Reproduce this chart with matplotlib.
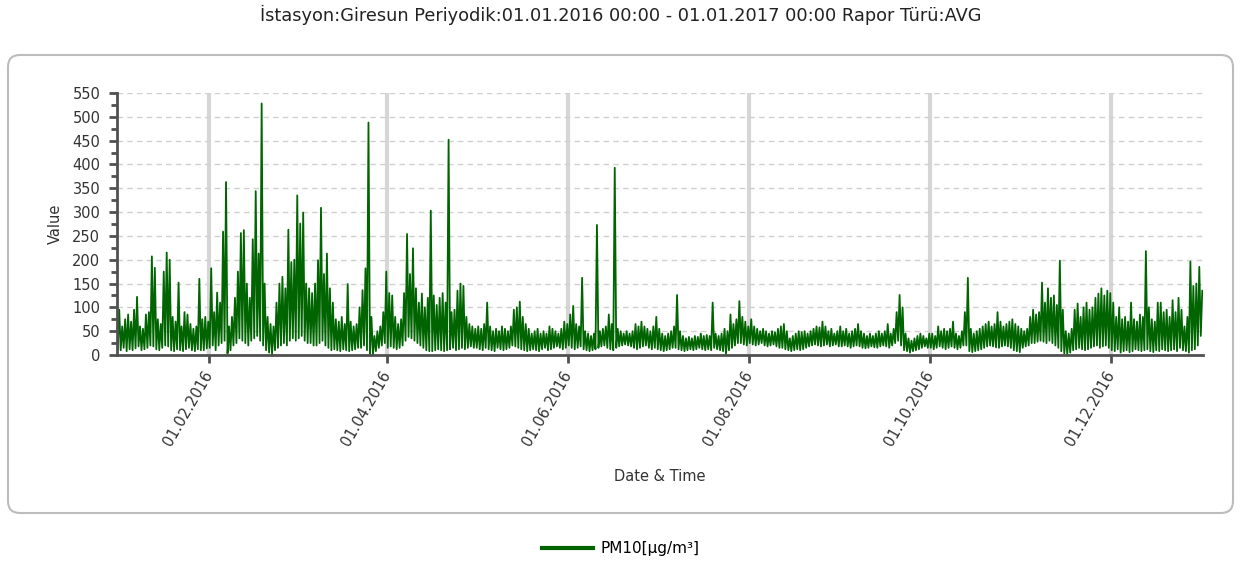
import numpy as np
import pandas as pd
import matplotlib
matplotlib.use("Agg")
import matplotlib.pyplot as plt
import matplotlib.dates as mdates
from matplotlib.ticker import MultipleLocator
from matplotlib.patches import FancyBboxPatch
from matplotlib.lines import Line2D
from matplotlib.transforms import IdentityTransform

plt.rcParams['font.family'] = ['DejaVu Sans']

title = "İstasyon:Giresun Periyodik:01.01.2016 00:00 - 01.01.2017 00:00 Rapor Türü:AVG"
series_name = "PM10[µg/m³]"
x_title = "Date & Time"
y_title = "Value"
start_date = "2016-01-01"
end_date = "2017-01-01"

# daily max / min of the hourly PM10 values (Jan .. Dec)
daily_high = [
    95, 60, 75, 85, 70, 95, 122, 60, 55, 85, 90, 207, 183, 75, 65, 175, 215, 200, 80, 70, 152, 60, 90, 85, 65, 55, 60, 160, 75, 80, 70,
    182, 90, 131, 110, 259, 363, 60, 80, 120, 175, 256, 262, 150, 120, 243, 344, 213, 528, 150, 80, 65, 60, 110, 150, 164, 140, 263, 195, 200,
    335, 276, 299, 150, 140, 130, 150, 199, 309, 170, 213, 140, 110, 75, 70, 80, 65, 149, 70, 60, 65, 100, 136, 182, 488, 80, 40, 50, 60, 90, 175,
    130, 125, 80, 65, 75, 130, 254, 170, 224, 140, 110, 129, 100, 120, 303, 125, 105, 120, 130, 110, 452, 90, 95, 135, 150, 145, 80, 65, 60, 55,
    60, 55, 65, 110, 60, 50, 55, 50, 60, 55, 50, 60, 95, 100, 112, 80, 65, 55, 45, 50, 55, 45, 50, 45, 60, 55, 50, 45, 55, 70, 65,
    85, 103, 65, 60, 162, 50, 45, 40, 45, 273, 50, 55, 60, 85, 65, 393, 55, 50, 45, 50, 45, 50, 65, 60, 70, 60, 55, 50, 60, 80,
    55, 45, 40, 45, 50, 60, 126, 50, 40, 35, 38, 35, 40, 38, 45, 40, 42, 40, 110, 45, 40, 45, 55, 50, 85, 65, 75, 113, 80, 70, 60,
    75, 60, 55, 50, 55, 50, 45, 50, 48, 55, 60, 65, 50, 35, 40, 45, 50, 48, 50, 45, 50, 55, 60, 58, 70, 60, 50, 55, 45, 50, 60,
    50, 55, 45, 50, 55, 65, 50, 45, 40, 45, 40, 45, 50, 45, 50, 65, 45, 55, 90, 126, 100, 45, 35, 30, 35, 40, 45, 40, 35, 45,
    45, 40, 60, 50, 55, 50, 55, 70, 45, 40, 50, 90, 162, 55, 45, 50, 55, 60, 65, 70, 60, 65, 90, 70, 60, 65, 70, 75, 65, 60, 55,
    50, 55, 80, 95, 85, 90, 152, 110, 140, 120, 125, 105, 198, 95, 50, 45, 55, 95, 108, 80, 100, 110, 95, 100, 120, 129, 140, 125, 135, 130,
    110, 80, 100, 75, 80, 70, 110, 75, 70, 85, 80, 218, 100, 75, 70, 110, 110, 90, 95, 80, 115, 90, 120, 95, 60, 80, 196, 145, 150, 185, 135,
]
daily_low = [
    12, 10, 15, 8, 12, 10, 14, 18, 10, 12, 15, 20, 18, 12, 10, 15, 20, 18, 10, 8, 12, 10, 8, 12, 15, 10, 8, 12, 10, 10, 14,
    15, 20, 10, 20, 25, 30, 3, 10, 20, 25, 35, 30, 25, 20, 30, 35, 40, 30, 20, 10, 5, 2, 10, 15, 20, 25, 20, 30, 35,
    30, 35, 40, 30, 25, 25, 20, 20, 25, 30, 20, 15, 10, 12, 10, 8, 12, 10, 8, 10, 12, 15, 15, 20, 10, 2, 0, 8, 15, 20, 25,
    15, 18, 15, 12, 15, 20, 30, 38, 35, 30, 25, 20, 15, 10, 8, 8, 10, 12, 10, 8, 10, 12, 15, 10, 12, 15, 12, 15, 18, 15,
    15, 12, 10, 15, 12, 10, 8, 15, 12, 10, 12, 15, 20, 18, 15, 12, 10, 8, 10, 12, 10, 8, 12, 15, 10, 12, 15, 18, 15, 12, 15,
    20, 15, 12, 15, 18, 12, 10, 8, 10, 12, 15, 18, 20, 15, 12, 10, 15, 18, 20, 22, 20, 18, 15, 12, 15, 18, 20, 15, 12, 15,
    12, 10, 8, 10, 12, 15, 15, 12, 10, 8, 10, 12, 10, 12, 15, 12, 10, 12, 10, 15, 12, 10, 8, 2, 10, 15, 20, 25, 25, 22, 20,
    25, 22, 20, 22, 25, 20, 18, 20, 22, 18, 15, 15, 12, 10, 8, 10, 12, 10, 12, 15, 18, 20, 22, 20, 18, 20, 22, 18, 20, 22, 18,
    18, 20, 18, 15, 18, 20, 18, 15, 14, 15, 18, 16, 15, 18, 20, 18, 15, 20, 25, 30, 20, 10, 8, 5, 8, 10, 12, 15, 18, 15,
    15, 12, 15, 18, 15, 12, 15, 18, 15, 12, 15, 20, 20, 8, 6, 8, 10, 12, 15, 18, 20, 18, 16, 15, 18, 20, 18, 15, 10, 8, 6,
    15, 18, 20, 25, 25, 28, 30, 28, 25, 30, 25, 20, 15, 8, 3, 2, 5, 10, 12, 15, 12, 10, 12, 15, 18, 20, 15, 18, 20, 15,
    10, 8, 12, 5, 8, 10, 6, 8, 12, 10, 8, 10, 12, 8, 6, 10, 8, 12, 10, 8, 10, 12, 8, 15, 10, 8, 5, 10, 12, 20, 40,
]

# low in the morning, high in the evening of each day
days = pd.date_range(start_date, periods=len(daily_high), freq="D")
t = np.empty(2 * len(days), dtype="datetime64[m]")
t[0::2] = (days + pd.Timedelta(hours=6)).values
t[1::2] = (days + pd.Timedelta(hours=18)).values
v = np.empty(2 * len(days))
v[0::2] = daily_low
v[1::2] = daily_high

W, H = 1242, 567
fig = plt.figure(figsize=(W / 100, H / 100), dpi=100)

# rounded frame round the plot area
frame = FancyBboxPatch((8, H - 513), 1225, 458, boxstyle="round,pad=0,rounding_size=12",
                       transform=IdentityTransform(), fill=False, ec="#bcbcbc", lw=1.5)
fig.add_artist(frame)

fig.text(0.5, 1 - 15 / H, title, ha="center", va="center", fontsize=12.8, color="#222222")

ax = fig.add_axes([117 / W, 1 - 355 / H, (1203 - 117) / W, (355 - 93) / H])
ax.plot(t, v, color="#006400", lw=1.3)

ax.set_xlim(pd.Timestamp(start_date), pd.Timestamp(end_date))
ax.set_ylim(0, 550)
ax.yaxis.set_major_locator(MultipleLocator(50))
ax.yaxis.set_minor_locator(MultipleLocator(25))
ax.xaxis.set_major_locator(mdates.MonthLocator(bymonth=[2, 4, 6, 8, 10, 12]))
ax.xaxis.set_major_formatter(mdates.DateFormatter("%d.%m.%Y"))

ax.set_axisbelow(True)
ax.yaxis.grid(True, ls=(0, (4, 3)), color="#d0d0d0", lw=1)
ax.xaxis.grid(True, color="#d6d6d6", lw=3)

for s in ["top", "right"]:
    ax.spines[s].set_visible(False)
for s in ["left", "bottom"]:
    ax.spines[s].set_color("#505050")
    ax.spines[s].set_linewidth(2)

ax.tick_params(axis="y", which="major", length=6, width=2, color="#505050", labelsize=10.5, labelcolor="#333333", pad=6)
ax.tick_params(axis="y", which="minor", length=4, width=2, color="#505050")
ax.tick_params(axis="x", which="major", length=6, width=2, color="#505050", labelsize=10.5, labelcolor="#333333", pad=6)
for lab in ax.get_xticklabels():
    lab.set_rotation(60)
    lab.set_ha("right")
    lab.set_va("center")
    lab.set_rotation_mode("anchor")

ax.set_xlabel(x_title, fontsize=10.5, color="#333333", labelpad=15)
ax.set_ylabel(y_title, fontsize=10.5, color="#333333", labelpad=7)

handle = Line2D([], [], color="#006400", lw=3)
fig.legend([handle], [series_name], loc="center", bbox_to_anchor=(0.5, 1 - 549 / H),
           frameon=False, fontsize=11, handlelength=3.3, handletextpad=0.5)

fig.savefig("out.png", dpi=100)
